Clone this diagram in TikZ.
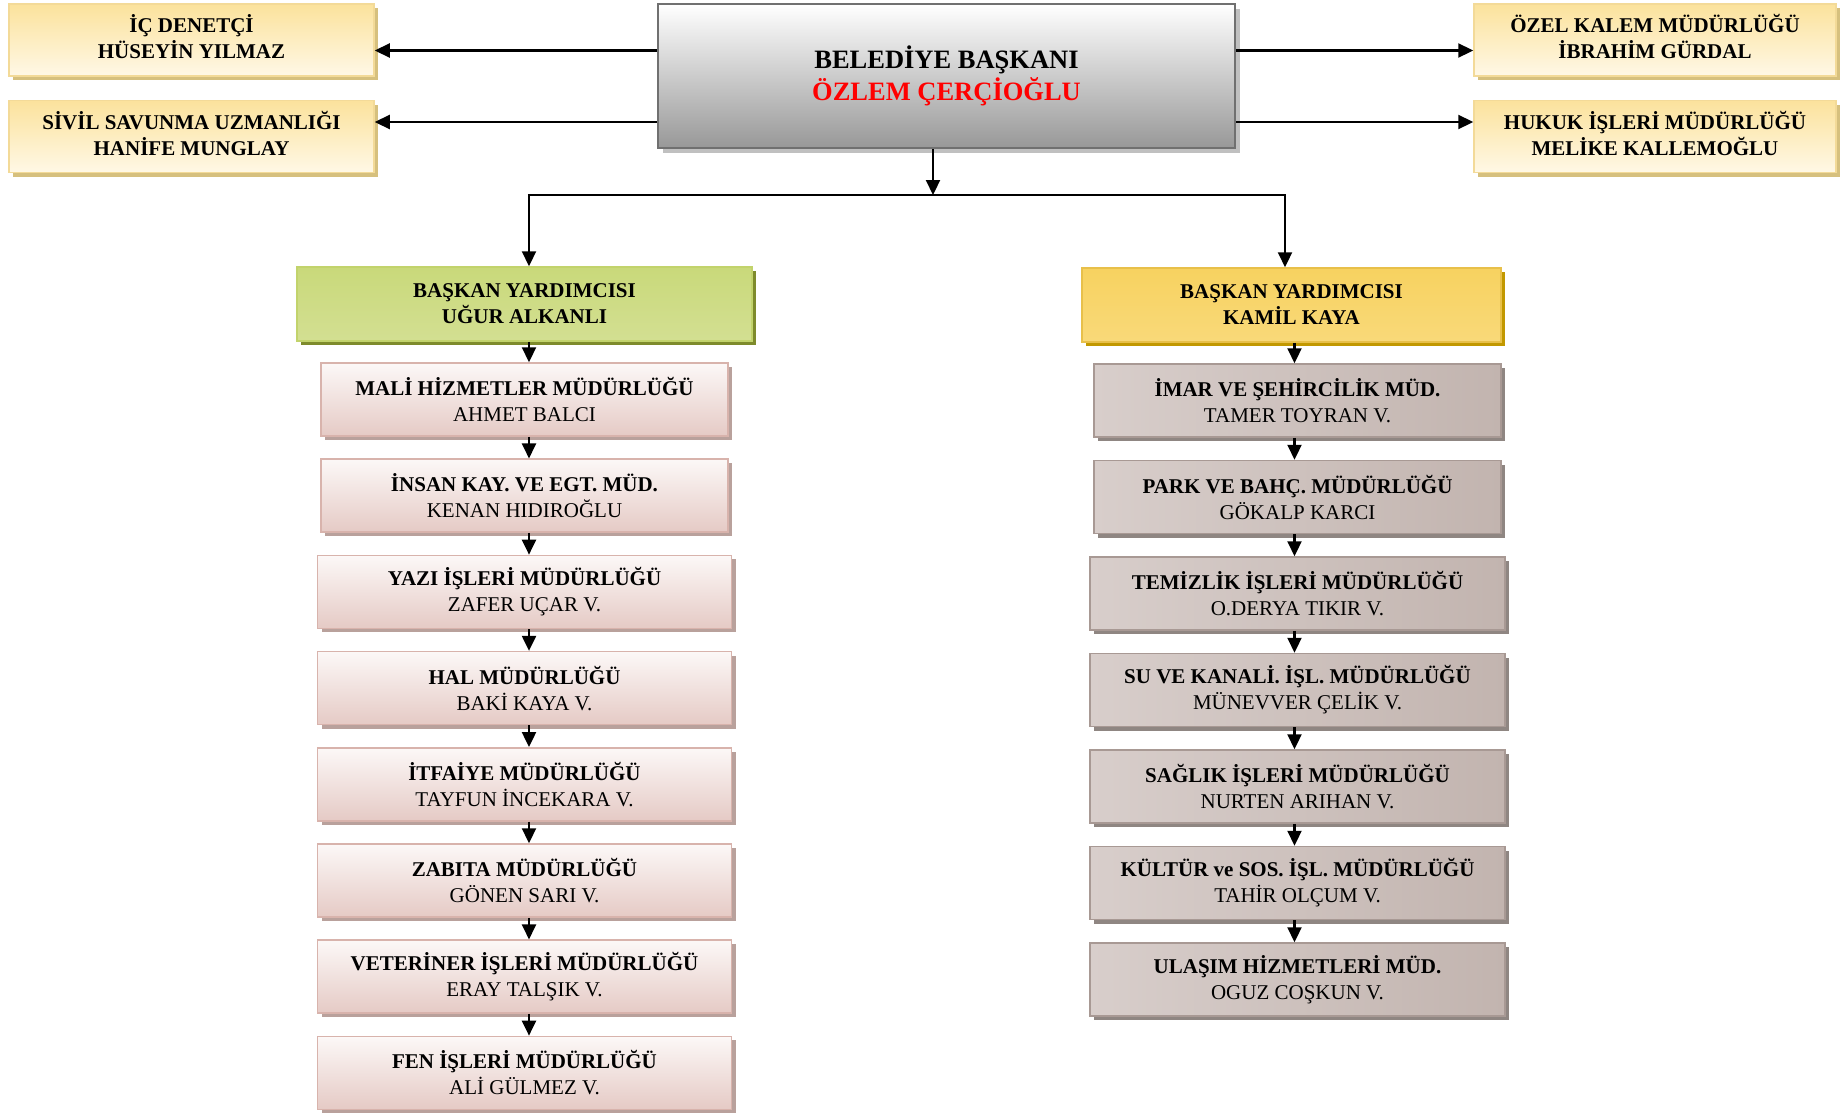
\documentclass[tikz,border=0pt]{standalone}
\usepackage{fontspec}
\setmainfont{Liberation Serif}
\usetikzlibrary{arrows.meta,shadows}
\definecolor{sideTop}{HTML}{FBE29C}
\definecolor{sideBot}{HTML}{FFF8E6}
\definecolor{sideBorder}{HTML}{F3DA98}
\definecolor{sideShadow}{HTML}{D6C07E}
\definecolor{mainBot}{HTML}{989898}
\definecolor{mainBorder}{HTML}{707070}
\definecolor{mainShadow}{HTML}{C0C0C0}
\definecolor{grnTop}{HTML}{C9D97A}
\definecolor{grnMid}{HTML}{E6EDC0}
\definecolor{grnBot}{HTML}{D3DF92}
\definecolor{grnBorder}{HTML}{C2D36C}
\definecolor{grnShadow}{HTML}{7E8B2C}
\definecolor{gldTop}{HTML}{F7D260}
\definecolor{gldMid}{HTML}{FCE6A6}
\definecolor{gldBot}{HTML}{F9D979}
\definecolor{gldBorder}{HTML}{E8C04A}
\definecolor{gldShadow}{HTML}{C29800}
\definecolor{pnkTop}{HTML}{FCF8F7}
\definecolor{pnkBot}{HTML}{E5CAC5}
\definecolor{pnkBorder}{HTML}{D8B3AC}
\definecolor{pnkShadow}{HTML}{B9A19C}
\definecolor{mvLeft}{HTML}{D8CECB}
\definecolor{mvMid}{HTML}{ECE6E4}
\definecolor{mvRight}{HTML}{C2B4AF}
\definecolor{mvBorder}{HTML}{A89994}
\definecolor{mvShadow}{HTML}{8F8682}
\definecolor{redname}{HTML}{FF0000}
\tikzset{
  base/.style={rectangle, inner sep=0pt, align=center, line width=1.5pt,
    font=\fontsize{21}{26}\selectfont},
  sidebox/.style={base, minimum width=365pt, minimum height=72pt, draw=sideBorder,
    top color=sideTop, bottom color=sideBot,
    drop shadow={shadow xshift=4pt, shadow yshift=-4pt, fill=sideShadow, opacity=1}},
  mainbox/.style={base, line width=2.5pt, minimum width=577pt, minimum height=144pt, draw=mainBorder,
    top color=white, bottom color=mainBot, font=\fontsize{26.5}{32}\selectfont,
    drop shadow={shadow xshift=5pt, shadow yshift=-5pt, fill=mainShadow, opacity=1}},
  vicegreen/.style={base, minimum width=455pt, minimum height=74pt, draw=grnBorder,
    top color=grnTop, middle color=grnMid, bottom color=grnBot,
    drop shadow={shadow xshift=4pt, shadow yshift=-4pt, fill=grnShadow, opacity=1}},
  vicegold/.style={base, minimum width=419pt, minimum height=74pt, draw=gldBorder,
    top color=gldTop, middle color=gldMid, bottom color=gldBot,
    drop shadow={shadow xshift=4pt, shadow yshift=-4pt, fill=gldShadow, opacity=1}},
  pinkbox/.style={base, minimum height=73pt, draw=pnkBorder,
    top color=pnkTop, bottom color=pnkBot,
    drop shadow={shadow xshift=4pt, shadow yshift=-4pt, fill=pnkShadow, opacity=1}},
  mauvebox/.style={base, minimum height=73pt, draw=mvBorder,
    left color=mvLeft, middle color=mvMid, right color=mvRight,
    drop shadow={shadow xshift=4pt, shadow yshift=-4pt, fill=mvShadow, opacity=1}},
  arr/.style={line width=2.2pt, -{Triangle[length=15pt,width=14pt]}},
  plain/.style={line width=2.2pt}
}
\begin{document}
\begin{tikzpicture}[x=1pt,y=-1pt]
\useasboundingbox (0,0) rectangle (1842,1114);
% top row
\node[mainbox] (bb) at (946.5,76) {\bfseries BELEDİYE BAŞKANI\\\bfseries\color{redname}ÖZLEM ÇERÇİOĞLU};
\node[sidebox] (ic) at (191.5,40) {\bfseries İÇ DENETÇİ\\\bfseries HÜSEYİN YILMAZ\\[-19pt]};
\node[sidebox] (sv) at (191.5,136.5) {\bfseries SİVİL SAVUNMA UZMANLIĞI\\\bfseries HANİFE MUNGLAY\\[-19pt]};
\node[sidebox, minimum width=362pt] (ok) at (1655,40) {\bfseries ÖZEL KALEM MÜDÜRLÜĞÜ\\\bfseries İBRAHİM GÜRDAL\\[-19pt]};
\node[sidebox, minimum width=362pt] (hk) at (1655,136.5) {\bfseries HUKUK İŞLERİ MÜDÜRLÜĞÜ\\\bfseries MELİKE KALLEMOĞLU\\[-19pt]};
\coordinate (a1) at (0,50.5);
\coordinate (a2) at (0,122);
\draw[arr] (bb.west |- a1) -- (ic.east |- a1);
\draw[arr] (bb.west |- a2) -- (sv.east |- a2);
\draw[arr] (bb.east |- a1) -- (ok.west |- a1);
\draw[arr] (bb.east |- a2) -- (hk.west |- a2);
% vice presidents
\node[vicegreen] (vl) at (524.5,304) {\bfseries BAŞKAN YARDIMCISI\\\bfseries UĞUR ALKANLI};
\node[vicegold] (vr) at (1291.5,305) {\bfseries BAŞKAN YARDIMCISI\\\bfseries KAMİL KAYA};
\coordinate (j) at (933,195);
\coordinate (jl) at (529,195);
\coordinate (jr) at (1285,195);
\draw[arr] (bb.south -| j) -- (j);
\draw[plain] ([xshift=-1.1pt]jl) -- ([xshift=1.1pt]jr);
\draw[arr] (jl) -- (vl.north -| jl);
\draw[arr] (jr) -- (vr.north -| jr);
% left column
\node[pinkbox, minimum width=407pt] (l1) at (524.5,399.5) {\bfseries MALİ HİZMETLER MÜDÜRLÜĞÜ\\AHMET BALCI};
\node[pinkbox, minimum width=407pt] (l2) at (524.5,495.7) {\bfseries İNSAN KAY. VE EGT. MÜD.\\KENAN HIDIROĞLU};
\node[pinkbox, minimum width=414pt] (l3) at (524.5,591.9) {\bfseries YAZI İŞLERİ MÜDÜRLÜĞÜ\\ZAFER UÇAR V.};
\node[pinkbox, minimum width=414pt] (l4) at (524.5,688.1) {\bfseries HAL MÜDÜRLÜĞÜ\\BAKİ KAYA V.};
\node[pinkbox, minimum width=414pt] (l5) at (524.5,784.3) {\bfseries İTFAİYE MÜDÜRLÜĞÜ\\TAYFUN İNCEKARA V.};
\node[pinkbox, minimum width=414pt] (l6) at (524.5,880.5) {\bfseries ZABITA MÜDÜRLÜĞÜ\\GÖNEN SARI V.};
\node[pinkbox, minimum width=414pt] (l7) at (524.5,976.7) {\bfseries VETERİNER İŞLERİ MÜDÜRLÜĞÜ\\ERAY TALŞIK V.};
\node[pinkbox, minimum width=414pt] (l8) at (524.5,1072.9) {\bfseries FEN İŞLERİ MÜDÜRLÜĞÜ\\ALİ GÜLMEZ V.};
\coordinate (lx) at (529,0);
\draw[arr] (vl.south -| lx) -- (l1.north -| lx);
\draw[arr] (l1.south -| lx) -- (l2.north -| lx);
\draw[arr] (l2.south -| lx) -- (l3.north -| lx);
\draw[arr] (l3.south -| lx) -- (l4.north -| lx);
\draw[arr] (l4.south -| lx) -- (l5.north -| lx);
\draw[arr] (l5.south -| lx) -- (l6.north -| lx);
\draw[arr] (l6.south -| lx) -- (l7.north -| lx);
\draw[arr] (l7.south -| lx) -- (l8.north -| lx);
% right column
\node[mauvebox, minimum width=407pt] (r1) at (1297.5,400.5) {\bfseries İMAR VE ŞEHİRCİLİK MÜD.\\TAMER TOYRAN V.};
\node[mauvebox, minimum width=407pt] (r2) at (1297.5,497) {\bfseries PARK VE BAHÇ. MÜDÜRLÜĞÜ\\GÖKALP KARCI};
\node[mauvebox, minimum width=415pt] (r3) at (1297.5,593.5) {\bfseries TEMİZLİK İŞLERİ MÜDÜRLÜĞÜ\\O.DERYA TIKIR V.};
\node[mauvebox, minimum width=415pt] (r4) at (1297.5,690) {\bfseries SU VE KANALİ. İŞL. MÜDÜRLÜĞÜ\\MÜNEVVER ÇELİK V.};
\node[mauvebox, minimum width=415pt] (r5) at (1297.5,786.5) {\bfseries SAĞLIK İŞLERİ MÜDÜRLÜĞÜ\\NURTEN ARIHAN V.};
\node[mauvebox, minimum width=415pt] (r6) at (1297.5,883) {\bfseries KÜLTÜR ve SOS. İŞL. MÜDÜRLÜĞÜ\\TAHİR OLÇUM V.};
\node[mauvebox, minimum width=415pt] (r7) at (1297.5,979.5) {\bfseries ULAŞIM HİZMETLERİ MÜD.\\OGUZ COŞKUN V.};
\coordinate (rx) at (1294.5,0);
\draw[arr] (vr.south -| rx) -- (r1.north -| rx);
\draw[arr] (r1.south -| rx) -- (r2.north -| rx);
\draw[arr] (r2.south -| rx) -- (r3.north -| rx);
\draw[arr] (r3.south -| rx) -- (r4.north -| rx);
\draw[arr] (r4.south -| rx) -- (r5.north -| rx);
\draw[arr] (r5.south -| rx) -- (r6.north -| rx);
\draw[arr] (r6.south -| rx) -- (r7.north -| rx);
\end{tikzpicture}
\end{document}
